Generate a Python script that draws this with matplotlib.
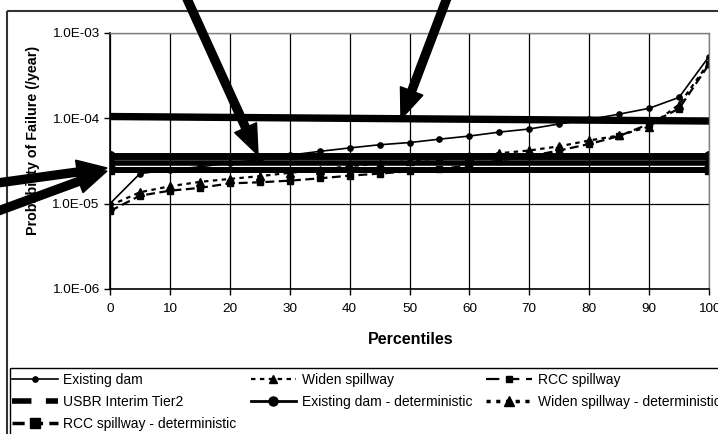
import matplotlib
matplotlib.use('Agg')
import matplotlib.pyplot as plt
from matplotlib.patches import Rectangle
from matplotlib.lines import Line2D
from matplotlib.ticker import FuncFormatter, FixedLocator, NullLocator

plt.rcParams['font.family'] = ['Liberation Sans', 'DejaVu Sans']

# data
percentiles = [0, 5, 10, 15, 20, 25, 30, 35, 40, 45, 50,
               55, 60, 65, 70, 75, 80, 85, 90, 95, 100]
existing_dam = [1.0e-5, 2.25e-5, 2.5e-5, 2.7e-5, 3.0e-5, 3.3e-5, 3.7e-5, 4.1e-5, 4.5e-5, 4.9e-5, 5.2e-5,
                5.7e-5, 6.2e-5, 6.9e-5, 7.5e-5, 8.6e-5, 9.7e-5, 1.12e-4, 1.31e-4, 1.76e-4, 5.3e-4]
widen_spillway = [9.5e-6, 1.36e-5, 1.6e-5, 1.8e-5, 1.95e-5, 2.1e-5, 2.3e-5, 2.5e-5, 2.75e-5, 2.95e-5, 3.15e-5,
                  3.4e-5, 3.6e-5, 3.9e-5, 4.2e-5, 4.7e-5, 5.5e-5, 6.3e-5, 8.0e-5, 1.45e-4, 4.5e-4]
rcc_spillway = [8.2e-6, 1.24e-5, 1.42e-5, 1.53e-5, 1.73e-5, 1.78e-5, 1.86e-5, 1.98e-5, 2.13e-5, 2.25e-5, 2.4e-5,
                2.55e-5, 2.8e-5, 3.2e-5, 3.6e-5, 4.2e-5, 5.0e-5, 6.2e-5, 8.6e-5, 1.3e-4, 4.3e-4]

usbr_x = [0, 100]
usbr_tier2 = [1.05e-4, 9.3e-5]

det_x = [0, 100]
existing_det = [3.65e-5, 3.65e-5]
widen_det = [3.0e-5, 3.0e-5]
rcc_det = [2.5e-5, 2.5e-5]

x_ticks = [0, 10, 20, 30, 40, 50, 60, 70, 80, 90, 100]
y_ticks = [1e-6, 1e-5, 1e-4, 1e-3]

W, H = 718, 434
fig = plt.figure(figsize=(W / 100, H / 100), dpi=100)
ax = fig.add_axes([110 / W, 1 - 289 / H, 599 / W, 256 / H])

ax.plot(percentiles, existing_dam, color='black', lw=1.2, marker='o', ms=3.8)
ax.plot(percentiles, widen_spillway, color='black', lw=1.6, dashes=(2, 2), marker='^', ms=5.5)
ax.plot(percentiles, rcc_spillway, color='black', lw=1.6, dashes=(4, 2), marker='s', ms=4.5)
ax.plot(usbr_x, usbr_tier2, color='black', lw=5.3, solid_capstyle='butt')
ax.plot(det_x, existing_det, color='black', lw=5, marker='o', ms=7, solid_capstyle='butt')
ax.plot(det_x, widen_det, color='black', lw=4, marker='^', ms=7, solid_capstyle='butt')
ax.plot(det_x, rcc_det, color='black', lw=4.3, marker='s', ms=6, solid_capstyle='butt')

ax.set_yscale('log')
ax.set_xlim(0, 100)
ax.set_ylim(1e-6, 1e-3)
ax.xaxis.set_major_locator(FixedLocator(x_ticks))
ax.yaxis.set_major_locator(FixedLocator(y_ticks))
ax.yaxis.set_minor_locator(NullLocator())
ax.yaxis.set_major_formatter(FuncFormatter(lambda v, p: '{:.1E}'.format(v)))
ax.grid(True, color='black', lw=0.9)
ax.set_axisbelow(True)
ax.tick_params(direction='out', length=4, width=1, labelsize=9.7, color='black')
ax.tick_params(axis='x', pad=6)
ax.tick_params(axis='y', pad=4)
for s in ['left', 'bottom']:
    ax.spines[s].set_color('black')
    ax.spines[s].set_linewidth(1.2)
for s in ['top', 'right']:
    ax.spines[s].set_color('#808080')
    ax.spines[s].set_linewidth(1.0)

fig.text(33.5 / W, 1 - 140 / H, 'Probability of Failure (/year)', rotation=90,
         ha='center', va='center', fontsize=10.3, fontweight='bold')
fig.text(411 / W, 1 - 340 / H, 'Percentiles', ha='center', va='center',
         fontsize=11.5, fontweight='bold')

# legend proxies, ordered so the columns fill like the original rows
h_exist = Line2D([], [], color='black', lw=1.2, marker='o', ms=3.8)
h_widen = Line2D([], [], color='black', lw=1.6, dashes=(2, 2), marker='^', ms=5.5)
h_rcc = Line2D([], [], color='black', lw=1.6, dashes=(6, 3), marker='s', ms=5)
h_usbr = Line2D([], [], color='black', lw=4, dashes=(3.5, 2.6))
h_edet = Line2D([], [], color='black', lw=2, marker='o', ms=6.5)
h_wdet = Line2D([], [], color='black', lw=2.5, dashes=(1.2, 1.6), marker='^', ms=6.5)
h_rdet = Line2D([], [], color='black', lw=2.5, dashes=(3.5, 1.8), marker='s', ms=6.5)
handles = [h_exist, h_usbr, h_rdet, h_widen, h_edet, h_rcc, h_wdet]
labels = ['Existing dam', 'USBR Interim Tier2', 'RCC spillway - deterministic',
          'Widen spillway', 'Existing dam - deterministic', 'RCC spillway',
          'Widen spillway - deterministic']
fig.legend(handles, labels, ncol=3, loc='upper left', frameon=False,
           bbox_to_anchor=(12 / W, 1 - 373 / H), borderaxespad=0, borderpad=0,
           fontsize=10, handlelength=3.3, handletextpad=0.4, columnspacing=1.0,
           labelspacing=0.56)

# overlay in pixel units for the chart frame and the arrows
over = fig.add_axes([0, 0, 1, 1], zorder=10)
over.set_xlim(0, W)
over.set_ylim(H, 0)
over.axis('off')
over.patch.set_alpha(0)
over.add_patch(Rectangle((7, 11), 740, 440, fill=False, ec='#333333', lw=1.5))
over.add_patch(Rectangle((10, 368), 740, 90, fill=False, ec='black', lw=1.0))

arrows = [((183, -10), (258, 155)),
          ((450, -10), (401, 119)),
          ((-10, 184), (107, 168)),
          ((-10, 214), (107, 171))]
for (x0, y0), (x1, y1) in arrows:
    over.arrow(x0, y0, x1 - x0, y1 - y0, width=8, head_width=24, head_length=30,
               length_includes_head=True, fc='black', ec='black')

fig.savefig('out.png', dpi=100)
